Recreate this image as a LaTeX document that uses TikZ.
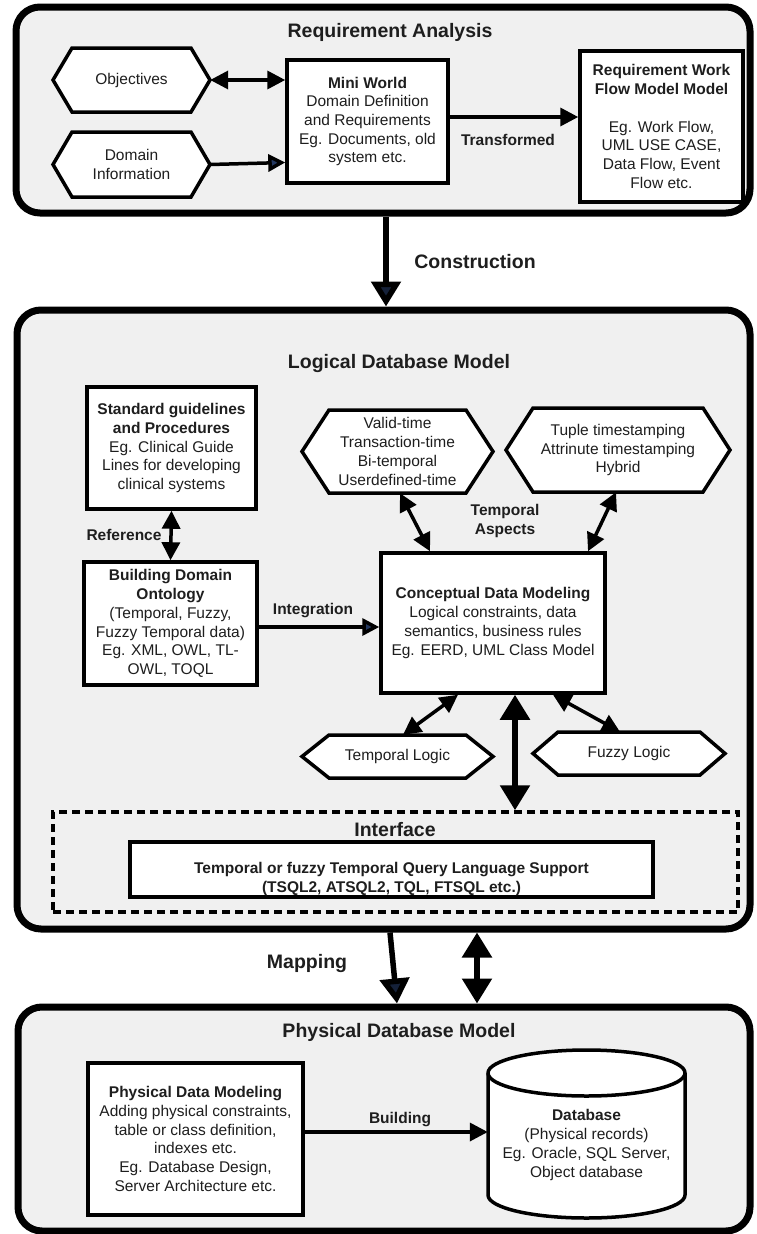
\documentclass[tikz,border=0pt]{standalone}
\usepackage{fontspec}
\setmainfont{Liberation Sans}
\usetikzlibrary{arrows.meta,calc}
\definecolor{panelgray}{RGB}{240,240,240}
\definecolor{navyhead}{RGB}{35,55,95}
\definecolor{txt}{RGB}{30,30,30}
\newcommand{\myBody}{\fontsize{15.5}{18.7}\selectfont}
\newcommand{\myTitle}{\bfseries\fontsize{19.5}{23}\selectfont}
\newcommand{\myLabel}{\bfseries\fontsize{15.5}{18.5}\selectfont}
\newcommand{\hexshape}[7]{%
  \path[hexdraw] ({#2-#4/2},#3) -- ({#2-#4/2+#6},{#3-#5/2}) -- ({#2+#4/2-#6},{#3-#5/2}) -- ({#2+#4/2},#3) -- ({#2+#4/2-#6},{#3+#5/2}) -- ({#2-#4/2+#6},{#3+#5/2}) -- cycle;
  \node[hextext, minimum width=#4pt, minimum height=#5pt] (#1) at (#2,#3) {#7};}
\begin{document}
\begin{tikzpicture}[x=1pt,y=-1pt,
  panel/.style={draw=black, line width=7pt, rounded corners=24pt, fill=panelgray, inner sep=0pt},
  box/.style={draw=black, line width=3.5pt, fill=white, align=center, inner sep=0pt, font=\myBody, text=txt},
  hexdraw/.style={draw=black, line width=3.5pt, fill=white, line join=miter},
  hextext/.style={draw=none, align=center, inner sep=0pt, font=\myBody, text=txt},
  ttl/.style={font=\myTitle, inner sep=0pt, text=txt},
  lbl/.style={font=\myLabel, align=center, inner sep=0pt, text=txt},
  arr/.style={line width=3.5pt, -{Triangle[length=18pt,width=18pt]}},
  darr/.style={line width=3.5pt, {Triangle[length=18pt,width=18pt]}-{Triangle[length=18pt,width=18pt]}},
  narr/.style={line width=3.5pt, -{Triangle[length=17pt,width=17pt,fill=navyhead]}},
  bigarr/.style={line width=5.5pt, -{Triangle[length=25pt,width=29pt]}},
  bigdarr/.style={line width=5.5pt, {Triangle[length=25pt,width=29pt]}-{Triangle[length=25pt,width=29pt]}},
]
\useasboundingbox (0,0) rectangle (756,1234);
\fill[white] (0,0) rectangle (756,1234);

% panels
\node[panel, minimum width=734pt, minimum height=206pt] (p1) at (383,110) {};
\node[panel, minimum width=733pt, minimum height=619pt] (p2) at (383.5,619.5) {};
\node[panel, minimum width=732pt, minimum height=224pt] (p3) at (384,1119) {};

% titles
\node[ttl] (t1) at (390,32) {Requirement Analysis};
\node[ttl] (t2) at (399,363) {Logical Database Model};
\node[ttl] (t3) at (399,1032) {Physical Database Model};

% Requirement analysis
\hexshape{obj}{131.5}{80}{157}{64}{19}{Objectives}
\hexshape{dom}{131.5}{164.5}{157}{65}{19}{Domain\\Information}
\node[box, minimum width=161pt, minimum height=123pt] (mw) at (367.5,121.5)
  {\textbf{Mini World}\\Domain Definition\\and Requirements\\Eg. Documents, old\\system etc.};
\node[box, minimum width=163pt, minimum height=151pt] (rwf) at (661.5,126.5)
  {\textbf{Requirement Work}\\\textbf{Flow Model Model}\\[18.7pt]Eg. Work Flow,\\UML USE CASE,\\Data Flow, Event\\Flow etc.};
\draw[darr] (obj.east) -- (obj.east -| mw.west);
\draw[narr] (dom.east) -- ([yshift=2pt]dom.east -| mw.west);
\draw[arr] ([yshift=4.5pt]mw.east) -- ([yshift=9.5pt]rwf.west);
\node[lbl] (ltr) at (508,140) {Transformed};

% construction
\coordinate (c1) at (386,0);
\draw[bigarr, -{Triangle[length=25pt,width=29pt,fill=navyhead!60!black]}] (c1 |- p1.south) -- (c1 |- p2.north);
\node[ttl] (lco) at (475,262) {Construction};

% Logical model
\node[box, minimum width=169pt, minimum height=122pt] (std) at (171.5,448)
  {\textbf{Standard guidelines}\\\textbf{and Procedures}\\Eg. Clinical Guide\\Lines for developing\\clinical systems};
\node[box, minimum width=173pt, minimum height=123pt] (bdo) at (170.5,623.5)
  {\textbf{Building Domain}\\\textbf{Ontology}\\(Temporal, Fuzzy,\\Fuzzy Temporal data)\\Eg. XML, OWL, TL-\\OWL, TOQL};
\node[box, minimum width=224pt, minimum height=140pt] (cdm) at (493,623)
  {\textbf{Conceptual Data Modeling}\\Logical constraints, data\\semantics, business rules\\Eg. EERD, UML Class Model};
\hexshape{vt}{397.5}{451.5}{191}{83}{27}{Valid-time\\Transaction-time\\Bi-temporal\\Userdefined-time}
\hexshape{ts}{618}{450}{224}{84}{27}{Tuple timestamping\\Attrinute timestamping\\Hybrid}
\hexshape{tl}{397.5}{756.5}{191}{43}{27}{Temporal Logic}
\hexshape{fl}{629}{753.5}{192}{43}{25}{Fuzzy Logic}

\draw[darr] (std.south) -- (bdo.north);
\node[lbl] (lref) at (124,535) {Reference};
\draw[narr] ([yshift=-3.5pt]bdo.east) -- ([yshift=-4pt]cdm.west);
\node[lbl] (lint) at (313,611) {Integration};
\draw[darr] ([xshift=2.5pt]vt.south) -- ([xshift=-63pt]cdm.north);
\draw[darr] ([xshift=-2pt]ts.south) -- ([xshift=95pt]cdm.north);
\node[lbl] (lta) at (505,521) {Temporal\\Aspects};
\draw[darr] ([xshift=-35pt]cdm.south) -- ([xshift=5.5pt]tl.north);
\draw[darr] ([xshift=60pt]cdm.south) -- ([xshift=-9pt]fl.north);

% interface
\node[draw=black, line width=3.5pt, dash pattern=on 8pt off 5pt, minimum width=685pt, minimum height=100pt, inner sep=0pt] (ifc) at (395.5,862) {};
\node[ttl] (lifc) at (395,830) {Interface};
\node[box, minimum width=523pt, minimum height=55pt] (ql) at (391.5,869.5) {};
\node[hextext, font=\myLabel] (qlt) at (391.5,879) {Temporal or fuzzy Temporal Query Language Support\\(TSQL2, ATSQL2, TQL, FTSQL etc.)};
\coordinate (b1) at ([xshift=22pt]cdm.south);
\draw[bigdarr] (b1) -- (b1 |- ifc.north);

% mapping
\coordinate (m1) at (390,0);
\coordinate (m2) at (397,0);
\coordinate (m3) at (477,0);
\draw[bigarr, -{Triangle[length=25pt,width=29pt,fill=navyhead!60!black]}] (m1 |- p2.south) -- (m2 |- p3.north);
\draw[bigdarr] (m3 |- p2.south) -- (m3 |- p3.north);
\node[ttl] (lmap) at (307,963) {Mapping};

% physical
\node[box, minimum width=215pt, minimum height=152pt] (pdm) at (195.5,1139)
  {\textbf{Physical Data Modeling}\\Adding physical constraints,\\table or class definition,\\indexes etc.\\Eg. Database Design,\\Server Architecture etc.};
\path[hexdraw] (488,1073) -- (488,1195) arc[start angle=180, end angle=0, x radius=98.5, y radius=23] -- (685,1073) arc[start angle=0, end angle=-180, x radius=98.5, y radius=23] -- cycle;
\draw[line width=3.5pt] (488,1073) arc[start angle=180, end angle=0, x radius=98.5, y radius=23];
\node[hextext, minimum width=197pt, minimum height=168pt] (db) at (586.5,1134) {};
\node[hextext] (dbt) at (586.5,1145) {\textbf{Database}\\(Physical records)\\Eg. Oracle, SQL Server,\\Object database};
\draw[arr] ([yshift=7pt]pdm.east) -- ([yshift=2pt]db.west);
\node[lbl] (lbu) at (400,1120) {Building};
\end{tikzpicture}
\end{document}
